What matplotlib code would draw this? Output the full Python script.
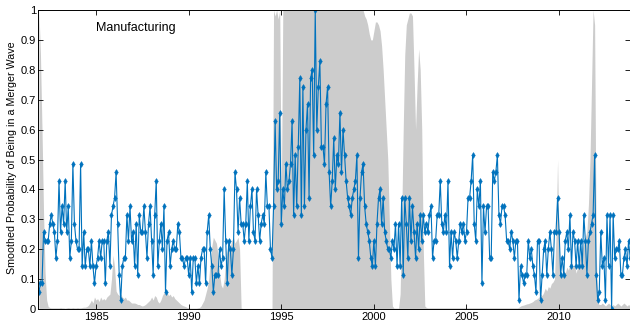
import numpy as np
import matplotlib.pyplot as plt

plt.rcParams['font.family'] = ['Liberation Sans', 'DejaVu Sans']

n_industries = 35
start_year = 1981.92

# monthly count of manufacturing industries in a wave, one row per year (1982-2013)
wave_counts = [
    [2, 3, 3, 9, 8, 8, 8, 10, 11, 10, 9, 6],
    [8, 15, 9, 12, 10, 15, 9, 12, 6, 8, 17, 10],
    [8, 7, 7, 17, 5, 9, 5, 7, 7, 5, 8, 5],
    [3, 5, 6, 8, 6, 8, 8, 3, 8, 9, 5, 11],
    [12, 13, 16, 10, 4, 1, 5, 6, 6, 11, 8, 12],
    [8, 9, 5, 10, 4, 11, 9, 9, 12, 9, 6, 10],
    [12, 8, 4, 11, 15, 5, 8, 10, 7, 12, 2, 8],
    [9, 5, 7, 8, 7, 7, 10, 9, 6, 6, 5, 6],
    [6, 4, 6, 2, 6, 6, 3, 5, 3, 6, 7, 7],
    [3, 9, 11, 7, 5, 2, 4, 4, 4, 7, 5, 6],
    [14, 8, 3, 8, 7, 4, 7, 16, 14, 9, 13, 10],
    [10, 8, 10, 15, 8, 12, 14, 9, 8, 14, 11, 8],
    [10, 11, 10, 16, 12, 12, 7, 6, 12, 22, 14, 15],
    [23, 10, 14, 12, 17, 14, 15, 17, 22, 11, 18, 12],
    [19, 27, 11, 26, 12, 21, 24, 13, 27, 28, 18, 35],
    [21, 26, 29, 19, 19, 17, 24, 26, 16, 12, 15, 20],
    [14, 18, 17, 23, 16, 21, 18, 15, 13, 12, 11, 13],
    [14, 15, 18, 6, 13, 16, 17, 12, 10, 9, 8, 6],
    [5, 8, 5, 10, 13, 14, 10, 13, 9, 8, 7, 7],
    [6, 8, 7, 10, 5, 10, 5, 13, 4, 13, 10, 6],
    [13, 8, 12, 9, 6, 10, 7, 11, 8, 11, 9, 10],
    [9, 11, 12, 6, 8, 8, 11, 11, 15, 10, 9, 11],
    [9, 15, 5, 9, 6, 9, 8, 6, 8, 10, 9, 10],
    [8, 9, 13, 13, 15, 18, 10, 8, 14, 12, 15, 3],
    [12, 9, 12, 12, 6, 6, 16, 15, 16, 18, 11, 10],
    [12, 12, 11, 8, 8, 7, 9, 8, 6, 8, 8, 1],
    [5, 4, 3, 4, 4, 8, 6, 7, 5, 4, 2, 8],
    [8, 1, 4, 7, 8, 4, 7, 9, 7, 4, 9, 9],
    [13, 9, 4, 6, 4, 8, 9, 7, 11, 5, 9, 8],
    [5, 8, 5, 8, 5, 11, 8, 4, 8, 9, 10, 11],
    [18, 4, 1, 2, 9, 5, 6, 1, 11, 5, 11, 0],
    [11, 6, 7, 7, 8, 4, 4, 6, 7, 5, 8, 6],
]

# smoothed regime probability, same monthly grid
smoothed_prob = [
    [1.0, 0.85, 0.6, 0.32, 0.12, 0.03, 0.008, 0.005, 0.004, 0.004, 0.004, 0.004],
    [0.004, 0.004, 0.005, 0.004, 0.004, 0.003, 0.004, 0.005, 0.004, 0.004, 0.005, 0.004],
    [0.004, 0.005, 0.004, 0.004, 0.005, 0.006, 0.006, 0.008, 0.012, 0.02, 0.03, 0.02],
    [0.04, 0.03, 0.035, 0.025, 0.04, 0.03, 0.035, 0.03, 0.04, 0.045, 0.05, 0.1],
    [0.18, 0.14, 0.06, 0.05, 0.045, 0.05, 0.04, 0.035, 0.04, 0.03, 0.03, 0.025],
    [0.02, 0.02, 0.02, 0.018, 0.015, 0.015, 0.012, 0.01, 0.012, 0.015, 0.02, 0.025],
    [0.03, 0.04, 0.03, 0.045, 0.04, 0.025, 0.02, 0.03, 0.045, 0.055, 0.05, 0.055],
    [0.045, 0.05, 0.04, 0.045, 0.035, 0.03, 0.025, 0.02, 0.015, 0.012, 0.01, 0.008],
    [0.005, 0.004, 0.003, 0.003, 0.003, 0.003, 0.003, 0.004, 0.005, 0.01, 0.02, 0.03],
    [0.05, 0.07, 0.1, 0.16, 0.21, 0.24, 0.23, 0.22, 0.18, 0.12, 0.08, 0.07],
    [0.1, 0.17, 0.2, 0.22, 0.21, 0.23, 0.24, 0.22, 0.23, 0.24, 0.2, 0.003],
    [0.002, 0.002, 0.002, 0.002, 0.002, 0.002, 0.002, 0.002, 0.002, 0.002, 0.002, 0.002],
    [0.002, 0.002, 0.002, 0.002, 0.002, 0.002, 0.002, 0.002, 1.0, 0.98, 1.0, 0.97],
    [1.0, 0.35, 1.0, 1.0, 1.0, 1.0, 1.0, 1.0, 1.0, 1.0, 1.0, 1.0],
    [1.0, 1.0, 1.0, 1.0, 1.0, 1.0, 1.0, 1.0, 1.0, 1.0, 1.0, 1.0],
    [1.0, 1.0, 1.0, 1.0, 1.0, 1.0, 1.0, 1.0, 1.0, 1.0, 1.0, 1.0],
    [1.0, 1.0, 1.0, 1.0, 1.0, 1.0, 1.0, 1.0, 1.0, 1.0, 1.0, 1.0],
    [1.0, 1.0, 1.0, 1.0, 1.0, 1.0, 1.0, 0.98, 0.97, 0.95, 0.92, 0.9],
    [0.9, 0.93, 0.96, 0.96, 0.95, 0.93, 0.88, 0.8, 0.7, 0.6, 0.5, 0.3],
    [0.1, 0.01, 0.003, 0.003, 0.003, 0.003, 0.05, 0.3, 0.6, 0.85, 0.95, 0.97],
    [0.99, 0.99, 0.98, 0.8, 0.6, 0.75, 0.87, 0.8, 0.6, 0.2, 0.01, 0.005],
    [0.004, 0.004, 0.004, 0.004, 0.004, 0.004, 0.004, 0.004, 0.004, 0.004, 0.004, 0.004],
    [0.004, 0.004, 0.004, 0.004, 0.004, 0.004, 0.004, 0.004, 0.004, 0.004, 0.004, 0.004],
    [0.004, 0.004, 0.004, 0.004, 0.004, 0.004, 0.004, 0.004, 0.004, 0.004, 0.004, 0.004],
    [0.004, 0.004, 0.004, 0.004, 0.004, 0.004, 0.004, 0.004, 0.004, 0.004, 0.004, 0.004],
    [0.004, 0.004, 0.004, 0.004, 0.004, 0.004, 0.004, 0.004, 0.004, 0.004, 0.004, 0.006],
    [0.01, 0.012, 0.013, 0.015, 0.017, 0.018, 0.02, 0.022, 0.025, 0.03, 0.032, 0.035],
    [0.04, 0.05, 0.045, 0.055, 0.07, 0.06, 0.075, 0.07, 0.085, 0.09, 0.1, 0.25],
    [0.5, 0.2, 0.12, 0.11, 0.13, 0.12, 0.14, 0.13, 0.15, 0.16, 0.14, 0.15],
    [0.12, 0.14, 0.16, 0.18, 0.2, 0.22, 0.24, 0.26, 0.35, 0.5, 0.75, 1.0],
    [0.95, 0.2, 0.02, 0.015, 0.015, 0.02, 0.015, 0.01, 0.015, 0.02, 0.015, 0.01],
    [0.015, 0.01, 0.015, 0.02, 0.015, 0.01, 0.015, 0.02, 0.015, 0.01, 0.015, 0.01],
]

counts = np.array(wave_counts).ravel()
prob = np.array(smoothed_prob).ravel()
t = start_year + np.arange(counts.size) / 12.0

fig = plt.figure(figsize=(6.3, 3.23), dpi=100)
ax = fig.add_axes([38 / 630, 14 / 323, 592 / 630, 299 / 323])

ax.fill_between(t, 0, prob, color='0.8', linewidth=0)
ax.plot(t, counts / n_industries, '-d', color='#0072BD', lw=0.8, ms=3.0,
        mew=0.4, mec='#0072BD', mfc='#0072BD')

ax.set_xlim(1981.87, 2013.83)
ax.set_ylim(0, 1)
ax.set_xticks(range(1985, 2011, 5))
yt = np.round(np.arange(0, 1.01, 0.1), 1)
ax.set_yticks(yt)
ax.set_yticklabels(['0' if v == 0 else ('1' if v == 1 else f'{v:g}') for v in yt])
ax.tick_params(direction='in', top=True, right=True, length=3.5, width=0.6,
               labelsize=8)
ax.tick_params(axis='y', pad=1.5)
ax.tick_params(axis='x', pad=2.5)
for s in ax.spines.values():
    s.set_linewidth(0.7)

ax.text(1985, 0.94, 'Manufacturing', fontsize=9, va='center', ha='left')
ax.set_ylabel('Smoothed Probability of Being in a Merger Wave', fontsize=7.7)
ax.yaxis.set_label_coords(-0.036, 0.505)

fig.savefig('out.png', dpi=100)
